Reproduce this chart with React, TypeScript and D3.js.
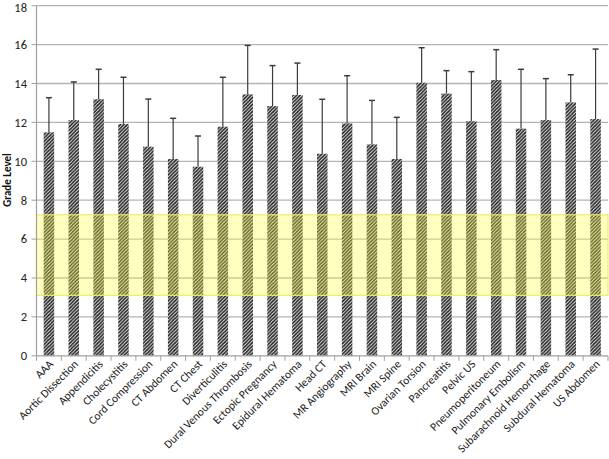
import React from "react";
import * as d3 from "d3";

const categories = [
  "AAA", "Aortic Dissection", "Appendicitis", "Cholecystitis", "Cord Compression",
  "CT Abdomen", "CT Chest", "Diverticulitis", "Dural Venous Thrombosis", "Ectopic Pregnancy",
  "Epidural Hematoma", "Head CT", "MR Angiography", "MRI Brain", "MRI Spine",
  "Ovarian Torsion", "Pancreatitis", "Pelvic US", "Pneumoperitoneum", "Pulmonary Embolism",
  "Subarachnoid Hemorrhage", "Subdural Hematoma", "US Abdomen",
];
const means = [
  11.49, 12.12, 13.19, 11.92, 10.75, 10.12, 9.72, 11.78, 13.44, 12.84,
  13.41, 10.39, 11.95, 10.87, 10.12, 14.04, 13.48, 12.06, 14.18, 11.68,
  12.12, 13.03, 12.17,
];
const upper = [
  13.27, 14.08, 14.73, 14.32, 13.2, 12.21, 11.3, 14.32, 15.96, 14.92,
  15.05, 13.19, 14.4, 13.13, 12.26, 15.84, 14.66, 14.61, 15.74, 14.73,
  14.25, 14.45, 15.77,
];
const yTicks = [0, 2, 4, 6, 8, 10, 12, 14, 16, 18];
const bandRange = [3.11, 7.25];

const W = 609, H = 459;
const left = 36.5, right = 608, top = 5.7, bottom = 355.8;

export default function App() {
  const x = d3.scaleBand<string>().domain(categories).range([left, right]).paddingInner(0).paddingOuter(0);
  const y = d3.scaleLinear().domain([0, 18]).range([bottom, top]);
  const bw = x.bandwidth();
  const barW = 10.5;
  const font = "Carlito, Calibri, 'Open Sans', sans-serif";
  return (
    <svg width={W} height={H} style={{ position: "absolute", left: 0, top: 0, background: "#fff" }}>
      <defs>
        <pattern id="hatch" patternUnits="userSpaceOnUse" width="3.5" height="3.5">
          <rect width="3.5" height="3.5" fill="#fff" />
          <path d="M-1,1 l2,-2 M0,3.5 l3.5,-3.5 M2.5,4.5 l2,-2" stroke="#222" strokeWidth="1.7" />
        </pattern>
      </defs>
      {yTicks.map((t) => (
        <g key={t}>
          {t > 0 && <line x1={left} x2={right} y1={y(t)} y2={y(t)} stroke="#b4b4b4" strokeWidth={1.3} />}
          <line x1={left - 5} x2={left} y1={y(t)} y2={y(t)} stroke="#a0a0a0" />
          <text x={27} y={Math.max(y(t), 7.5)} dy="0.35em" textAnchor="end" fontSize={12.5} fontFamily={font} fill="#222">{t}</text>
        </g>
      ))}
      {categories.map((c, i) => {
        const cx = (x(c) as number) + bw / 2;
        return (
          <g key={c}>
            <rect x={cx - barW / 2} y={y(means[i])} width={barW} height={bottom - y(means[i])} fill="url(#hatch)" />
            <line x1={cx} x2={cx} y1={y(means[i])} y2={y(upper[i])} stroke="#3c3c3c" strokeWidth={1.2} />
            <line x1={cx - 3} x2={cx + 3} y1={y(upper[i])} y2={y(upper[i])} stroke="#3c3c3c" strokeWidth={1.5} />
          </g>
        );
      })}
      <rect x={left} y={y(bandRange[1])} width={right - left} height={y(bandRange[0]) - y(bandRange[1])}
        fill="rgba(255,255,60,0.32)" stroke="#ecec70" strokeWidth={1.2} />
      <line x1={left} x2={left} y1={top} y2={bottom} stroke="#a0a0a0" strokeWidth={1.2} />
      <line x1={left} x2={right} y1={bottom} y2={bottom} stroke="#a0a0a0" strokeWidth={1.2} />
      {categories.map((c, i) => (
        <line key={"t" + i} x1={x(c) as number} x2={x(c) as number} y1={bottom} y2={bottom + 5} stroke="#a0a0a0" />
      ))}
      <line x1={right} x2={right} y1={bottom} y2={bottom + 5} stroke="#a0a0a0" />
      {categories.map((c) => {
        const cx = (x(c) as number) + bw / 2;
        return (
          <text key={"l" + c} transform={`translate(${cx + 5},${bottom + 9}) rotate(-45)`} textAnchor="end"
            fontSize={11.5} fontFamily={font} fill="#222">{c}</text>
        );
      })}
      <text transform={`translate(11,180) rotate(-90)`} textAnchor="middle" fontSize={11} fontWeight="bold"
        fontFamily={font} fill="#111">Grade Level</text>
    </svg>
  );
}
